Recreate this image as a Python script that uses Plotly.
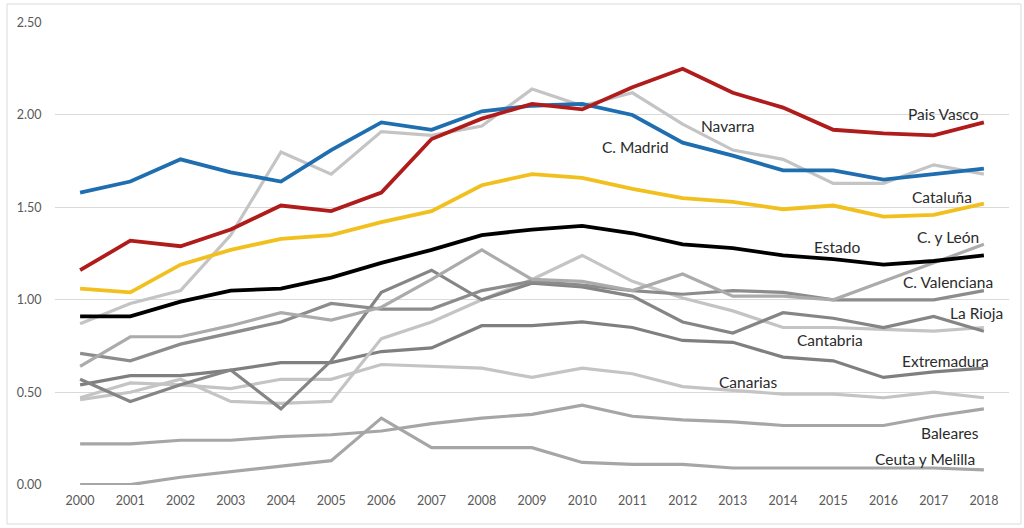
import plotly.graph_objects as go

years = list(range(2000, 2019))

pais_vasco = [1.16, 1.32, 1.29, 1.38, 1.51, 1.48, 1.58, 1.87, 1.98, 2.06, 2.03, 2.15, 2.25, 2.12, 2.04, 1.92, 1.90, 1.89, 1.96]
madrid = [1.58, 1.64, 1.76, 1.69, 1.64, 1.81, 1.96, 1.92, 2.02, 2.05, 2.06, 2.00, 1.85, 1.78, 1.70, 1.70, 1.65, 1.68, 1.71]
navarra = [0.87, 0.98, 1.05, 1.35, 1.80, 1.68, 1.91, 1.89, 1.94, 2.14, 2.05, 2.12, 1.95, 1.81, 1.76, 1.63, 1.63, 1.73, 1.68]
cataluna = [1.06, 1.04, 1.19, 1.27, 1.33, 1.35, 1.42, 1.48, 1.62, 1.68, 1.66, 1.60, 1.55, 1.53, 1.49, 1.51, 1.45, 1.46, 1.52]
estado = [0.91, 0.91, 0.99, 1.05, 1.06, 1.12, 1.20, 1.27, 1.35, 1.38, 1.40, 1.36, 1.30, 1.28, 1.24, 1.22, 1.19, 1.21, 1.24]
cyleon = [0.64, 0.80, 0.80, 0.86, 0.93, 0.89, 0.96, 1.11, 1.27, 1.11, 1.10, 1.05, 1.14, 1.02, 1.02, 1.00, 1.10, 1.20, 1.30]
valenciana = [0.71, 0.67, 0.76, 0.82, 0.88, 0.98, 0.95, 0.95, 1.05, 1.10, 1.08, 1.05, 1.03, 1.05, 1.04, 1.00, 1.00, 1.00, 1.05]
rioja = [0.57, 0.45, 0.54, 0.62, 0.41, 0.67, 1.04, 1.16, 1.00, 1.09, 1.07, 1.02, 0.88, 0.82, 0.93, 0.90, 0.85, 0.91, 0.83]
cantabria = [0.46, 0.50, 0.57, 0.45, 0.44, 0.45, 0.79, 0.88, 1.00, 1.11, 1.24, 1.10, 1.01, 0.94, 0.85, 0.85, 0.84, 0.83, 0.85]
extremadura = [0.54, 0.59, 0.59, 0.62, 0.66, 0.66, 0.72, 0.74, 0.86, 0.86, 0.88, 0.85, 0.78, 0.77, 0.69, 0.67, 0.58, 0.61, 0.63]
canarias = [0.47, 0.55, 0.54, 0.52, 0.57, 0.57, 0.65, 0.64, 0.63, 0.58, 0.63, 0.60, 0.53, 0.51, 0.49, 0.49, 0.47, 0.50, 0.47]
baleares = [0.22, 0.22, 0.24, 0.24, 0.26, 0.27, 0.29, 0.33, 0.36, 0.38, 0.43, 0.37, 0.35, 0.34, 0.32, 0.32, 0.32, 0.37, 0.41]
ceuta = [0.00, 0.00, 0.04, 0.07, 0.10, 0.13, 0.36, 0.20, 0.20, 0.20, 0.12, 0.11, 0.11, 0.09, 0.09, 0.09, 0.09, 0.09, 0.08]

# series: (datos, color, grosor) - grises primero, colores encima
series = [
    (ceuta, "#a6a6a6", 3.2),
    (baleares, "#a6a6a6", 3.2),
    (canarias, "#c4c4c4", 3.2),
    (extremadura, "#7f7f7f", 3.2),
    (cantabria, "#c4c4c4", 3.2),
    (rioja, "#858585", 3.2),
    (valenciana, "#8c8c8c", 3.2),
    (cyleon, "#ababab", 3.2),
    (navarra, "#c4c4c4", 3.2),
    (estado, "#000000", 3.8),
    (cataluna, "#f2c01e", 3.8),
    (madrid, "#1f6eb0", 3.8),
    (pais_vasco, "#b01c1c", 3.8),
]

# etiquetas: (texto, centro x en px, centro y en px)
etiquetas = [
    ("Pais Vasco", 943, 114),
    ("Navarra", 728, 126),
    ("C. Madrid", 635, 147),
    ("Cataluña", 942, 197),
    ("C. y León", 948, 237),
    ("Estado", 837, 247),
    ("C. Valenciana", 948, 282),
    ("La Rioja", 976, 313),
    ("Cantabria", 830, 340),
    ("Extremadura", 945, 361),
    ("Canarias", 748, 382),
    ("Baleares", 950, 433),
    ("Ceuta y Melilla", 925, 459),
]

W, H = 1024, 528
L, T = 55, 22
R, B = W - 1009, H - 485
pw, ph = W - L - R, H - T - B

fig = go.Figure()
for datos, color, ancho in series:
    fig.add_trace(go.Scatter(x=years, y=datos, mode="lines",
                             line=dict(color=color, width=ancho), showlegend=False))

for texto, px, py in etiquetas:
    fig.add_annotation(x=(px - L) / pw, y=(H - B - py) / ph,
                       xref="paper", yref="paper", xanchor="center", yanchor="middle",
                       text=texto, showarrow=False,
                       font=dict(family="Lato", size=15.5, color="#2b2b2b"))

# marco exterior
fig.add_shape(type="rect", xref="paper", yref="paper",
              x0=(7 - L) / pw, x1=(1021 - L) / pw,
              y0=(H - B - 524) / ph, y1=(H - B - 4) / ph,
              line=dict(color="#d9d9d9", width=1))

fig.update_layout(
    width=W, height=H,
    margin=dict(l=L, r=R, t=T, b=B),
    plot_bgcolor="white", paper_bgcolor="white",
    font=dict(family="Lato", size=12.5, color="#595959"),
)
fig.update_xaxes(range=[1999.5, 2018.5], tickmode="linear", dtick=1, showgrid=False,
                 showline=False, ticks="outside", ticklen=4, tickcolor="white",
                 zeroline=False)
fig.update_yaxes(range=[-0.002, 2.503], tick0=0, dtick=0.5, tickformat=".2f",
                 gridcolor="#d9d9d9", showline=False, zeroline=False,
                 ticks="outside", ticklen=10, tickcolor="white")

# quitar el margen del body para que la figura ocupe justo la ventana
fig.write_html("out.html", config={"displayModeBar": False},
               post_script="document.body.style.margin='0';")
